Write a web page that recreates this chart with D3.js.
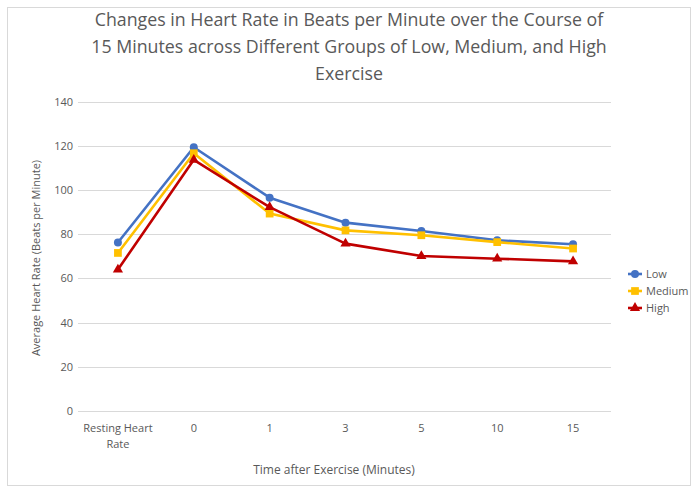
<!DOCTYPE html>
<html>
<head>
<meta charset="utf-8">
<script src="https://cdn.jsdelivr.net/npm/d3@7"></script>
<style>
  body { margin: 0; background: #fff; }
  text { font-family: "Open Sans", sans-serif; fill: #595959; }
</style>
</head>
<body>
<script>
var categories = ["Resting Heart Rate", "0", "1", "3", "5", "10", "15"];
var lowValues = [76.2, 119.3, 96.5, 85.2, 81.4, 77.2, 75.4];
var mediumValues = [71.5, 116.6, 89.3, 81.7, 79.5, 76.4, 73.5];
var highValues = [64, 113.6, 92.2, 75.7, 70.1, 68.9, 67.7];
var yTicks = [0, 20, 40, 60, 80, 100, 120, 140];
var titleLines = [
    "Changes in Heart Rate in Beats per Minute over the Course of",
    "15 Minutes across Different Groups of Low, Medium, and High",
    "Exercise"
];

var series = [
    { name: "Low", values: lowValues, color: "#4472C4", symbol: d3.symbolCircle, size: 50 },
    { name: "Medium", values: mediumValues, color: "#FFC000", symbol: d3.symbolSquare, size: 60 },
    { name: "High", values: highValues, color: "#C00000", symbol: d3.symbolTriangle, size: 45 }
];

var width = 696, height = 488;
var svg = d3.select("body").append("svg")
    .attr("width", width)
    .attr("height", height);

// chart frame
svg.append("rect")
    .attr("x", 7.5).attr("y", 7.5)
    .attr("width", 683).attr("height", 478)
    .attr("fill", "#fff")
    .attr("stroke", "#d9d9d9");

var x = d3.scaleBand()
    .domain(categories)
    .range([80, 611]);

var y = d3.scaleLinear()
    .domain([0, 140])
    .range([411, 101.5]);

// gridlines
svg.append("g")
    .selectAll("line")
    .data(yTicks)
    .enter()
    .append("line")
    .attr("x1", 78).attr("x2", 611)
    .attr("y1", function(d) { return Math.round(y(d)) + 0.5; })
    .attr("y2", function(d) { return Math.round(y(d)) + 0.5; })
    .attr("stroke", "#d9d9d9")
    .attr("stroke-width", 1);

// y axis labels
var yAxis = d3.axisLeft(y).tickValues(yTicks).tickSize(0).tickPadding(0);
var gy = svg.append("g").attr("transform", "translate(73,0)").call(yAxis);
gy.select(".domain").remove();
gy.selectAll("text")
    .style("font-size", "11px")
    .style("font-family", "'Open Sans', sans-serif")
    .attr("fill", "#595959");

// x axis labels
var xAxis = d3.axisBottom(x).tickSize(0).tickPadding(0);
var gx = svg.append("g").attr("transform", "translate(0,424)").call(xAxis);
gx.select(".domain").remove();
gx.selectAll("text")
    .style("font-size", "11px")
    .style("font-family", "'Open Sans', sans-serif")
    .attr("fill", "#595959")
    .each(function(d) {
        var t = d3.select(this);
        if (d === "Resting Heart Rate") {
            t.text(null);
            t.append("tspan").attr("x", 0).attr("dy", "0.71em").text("Resting Heart");
            t.append("tspan").attr("x", 0).attr("dy", "1.45em").text("Rate");
            t.attr("dy", null);
        }
    });

// axis titles
svg.append("text")
    .attr("x", 334).attr("y", 474)
    .attr("text-anchor", "middle")
    .style("font-size", "12px")
    .text("Time after Exercise (Minutes)");

svg.append("text")
    .attr("transform", "translate(40,258) rotate(-90)")
    .attr("text-anchor", "middle")
    .style("font-size", "11px")
    .text("Average Heart Rate (Beats per Minute)");

// title
svg.append("g")
    .selectAll("text")
    .data(titleLines)
    .enter()
    .append("text")
    .attr("x", 349)
    .attr("y", function(d, i) { return 26 + i * 27; })
    .attr("text-anchor", "middle")
    .style("font-size", "17.8px")
    .text(function(d) { return d; });

// lines and markers
var line = d3.line()
    .x(function(d, i) { return x(categories[i]) + x.bandwidth() / 2; })
    .y(function(d) { return y(d); });

series.forEach(function(s) {
    svg.append("path")
        .datum(s.values)
        .attr("d", line)
        .attr("fill", "none")
        .attr("stroke", s.color)
        .attr("stroke-width", 2.6)
        .attr("stroke-linejoin", "round");

    svg.append("g")
        .selectAll("path")
        .data(s.values)
        .enter()
        .append("path")
        .attr("d", d3.symbol().type(s.symbol).size(s.size))
        .attr("transform", function(d, i) {
            return "translate(" + (x(categories[i]) + x.bandwidth() / 2) + "," + y(d) + ")";
        })
        .attr("fill", s.color);
});

// legend
var legend = svg.append("g").attr("transform", "translate(628,274)");
series.forEach(function(s, i) {
    var g = legend.append("g").attr("transform", "translate(0," + (i * 17) + ")");
    g.append("line")
        .attr("x1", 0).attr("x2", 14)
        .attr("stroke", s.color)
        .attr("stroke-width", 2.6);
    g.append("path")
        .attr("d", d3.symbol().type(s.symbol).size(s.size))
        .attr("transform", "translate(7,0)")
        .attr("fill", s.color);
    g.append("text")
        .attr("x", 18).attr("y", 4)
        .style("font-size", "11px")
        .text(s.name);
});
</script>
</body>
</html>
